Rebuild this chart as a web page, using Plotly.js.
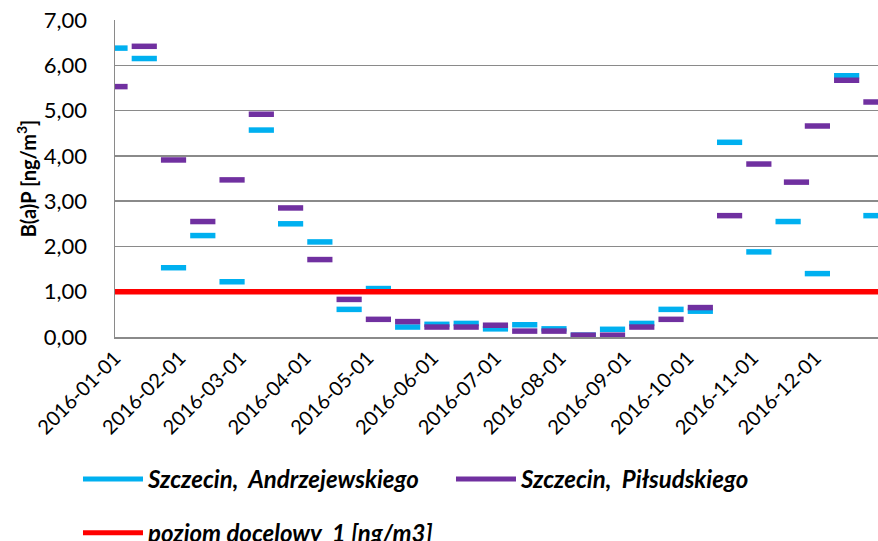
<!DOCTYPE html>
<html>
<head>
<meta charset="utf-8">
<script src="https://cdn.plot.ly/plotly-3.0.1.min.js"></script>
<style>html,body{margin:0;padding:0;background:#fff;}</style>
</head>
<body>
<div id="chart" style="width:878px;height:541px;"></div>
<script>
// Sampling dates (every 14 days)
const datesAndrzejewskiego = ["2016-01-01","2016-01-15","2016-01-29","2016-02-12","2016-02-26","2016-03-11","2016-03-25","2016-04-08","2016-04-22","2016-05-06","2016-05-20","2016-06-03","2016-06-17","2016-07-01","2016-07-15","2016-07-29","2016-08-12","2016-08-26","2016-09-09","2016-09-23","2016-10-07","2016-10-21","2016-11-04","2016-11-18","2016-12-02","2016-12-16","2016-12-30"];
const datesPilsudskiego = ["2016-01-01","2016-01-15","2016-01-29","2016-02-12","2016-02-26","2016-03-11","2016-03-25","2016-04-08","2016-04-22","2016-05-06","2016-05-20","2016-06-03","2016-06-17","2016-07-01","2016-07-15","2016-07-29","2016-08-12","2016-08-26","2016-09-09","2016-09-23","2016-10-07","2016-10-21","2016-11-04","2016-11-22","2016-12-02","2016-12-16","2016-12-30"];
// B(a)P concentrations [ng/m3]
const valuesAndrzejewskiego = [6.38,6.15,1.53,2.24,1.22,4.57,2.50,2.10,0.61,1.07,0.22,0.28,0.30,0.18,0.27,0.18,0.04,0.17,0.30,0.61,0.57,4.30,1.88,2.55,1.40,5.77,2.68];
const valuesPilsudskiego = [5.53,6.42,3.91,2.55,3.47,4.92,2.85,1.71,0.83,0.39,0.34,0.22,0.22,0.26,0.13,0.13,0.04,0.04,0.22,0.39,0.65,2.68,3.82,3.42,4.66,5.67,5.19];
// target level
const targetLevel = 1;
// axis ticks
const tickDates = ["2016-01-01","2016-02-01","2016-03-01","2016-04-01","2016-05-01","2016-06-01","2016-07-01","2016-08-01","2016-09-01","2016-10-01","2016-11-01","2016-12-01"];
const tickLabels = ["2016-01-01","2016-02-01","2016-03-01","2016-04-01","2016-05-01","2016-06-01","2016-07-01","2016-08-01","2016-09-01","2016-10-01","2016-11-01","2016-12-01"];
const seriesNames = ["Szczecin,  Andrzejewskiego","Szczecin,  Piłsudskiego","poziom docelowy  1 [ng/m3]"];

const BLUE = "#00B0F0", PURPLE = "#7030A0", RED = "#FF0000", GRID = "#8a8a8a";
const FONT = "Lato, 'Open Sans', sans-serif";

const dash = (c) => ({symbol: "line-ew", size: 18, line: {color: c, width: 5.5}, color: c});

const traces = [
  {x: datesAndrzejewskiego, y: valuesAndrzejewskiego, type: "scatter", mode: "markers",
   marker: dash(BLUE), showlegend: false, hoverinfo: "x+y"},
  {x: datesPilsudskiego, y: valuesPilsudskiego, type: "scatter", mode: "markers",
   marker: dash(PURPLE), showlegend: false, hoverinfo: "x+y"},
  // legend entries
  {x: [null], y: [null], type: "scatter", mode: "lines", name: seriesNames[0],
   line: {color: BLUE, width: 5}, legend: "legend"},
  {x: [null], y: [null], type: "scatter", mode: "lines", name: seriesNames[1],
   line: {color: PURPLE, width: 5}, legend: "legend"},
  {x: [null], y: [null], type: "scatter", mode: "lines", name: seriesNames[2],
   line: {color: RED, width: 5}, legend: "legend2"}
];

const legendFont = {family: FONT, size: 24, color: "#000", weight: "bold", style: "italic"};

const layout = {
  width: 878, height: 541,
  margin: {l: 115, r: 0, t: 20, b: 204, autoexpand: false},
  paper_bgcolor: "#fff", plot_bgcolor: "#fff",
  separators: ", ",
  font: {family: FONT, color: "#000"},
  xaxis: {
    type: "date", range: ["2016-01-01", "2016-12-31"],
    tickmode: "array", tickvals: tickDates, ticktext: tickLabels,
    tickangle: -45, tickfont: {family: FONT, size: 20, color: "#000"},
    showgrid: false, zeroline: false,
    showline: true, linecolor: GRID, linewidth: 1.5,
    ticks: "", fixedrange: true
  },
  yaxis: {
    range: [0, 7.001], dtick: 1, tick0: 0, tickformat: ".2f",
    tickfont: {family: FONT, size: 22, color: "#000"},
    showgrid: true, gridcolor: GRID, gridwidth: 1.5,
    zeroline: false, showline: true, linecolor: GRID, linewidth: 1.5,
    ticks: "", ticklabelstandoff: 22,
    title: {text: "B(a)P [ng/m<sup>3</sup>]", font: {family: FONT, size: 20, color: "#000", weight: "bold"}, standoff: 2},
    fixedrange: true
  },
  shapes: [{type: "line", xref: "paper", x0: 0, x1: 1, yref: "y", y0: targetLevel, y1: targetLevel,
            line: {color: RED, width: 5.5}, layer: "above"}],
  legend: {orientation: "h", x: -0.0485, xanchor: "left", y: -0.378, yanchor: "top",
           font: legendFont, bgcolor: "rgba(0,0,0,0)", entrywidth: 298, entrywidthmode: "pixels",
           itemwidth: 60, tracegroupgap: 0},
  legend2: {orientation: "h", x: -0.0485, xanchor: "left", y: -0.548, yanchor: "top",
           font: legendFont, bgcolor: "rgba(0,0,0,0)", itemwidth: 60}
};

Plotly.newPlot("chart", traces, layout, {displayModeBar: false, staticPlot: true});
</script>
</body>
</html>
